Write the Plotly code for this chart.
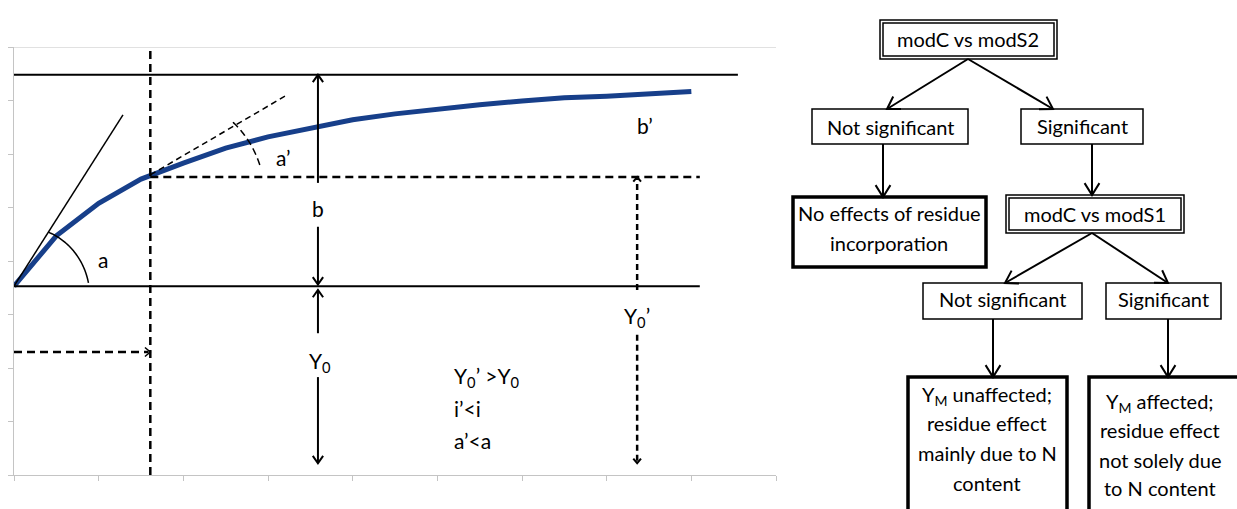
import numpy as np
import plotly.graph_objects as go

W, H = 1237, 509
FONT = "Lato"

# ---------------- growth curve data (left panel) ----------------
time = [0, 0.5, 1, 1.5, 2, 2.5, 3, 3.5, 4, 4.5, 5, 5.5, 6, 6.5, 7, 7.5, 8]
response = [3.53, 4.47, 5.08, 5.53, 5.83, 6.11, 6.32, 6.49, 6.64, 6.75,
            6.84, 6.92, 6.99, 7.05, 7.08, 7.13, 7.17]

x_ticks = list(range(0, 10))
y_ticks = list(range(0, 9))

# reference levels of the schematic
y_base = response[0]      # Y0 level
y_top = 7.48              # plateau (Y0 + b)
x_ref = 1.61              # reference time
y_ref = 5.57              # Y0' level
x_b = 3.59                # position of the b / Y0 arrows
x_b2 = 7.36               # position of the Y0' arrow
x_end_top, x_end_base = 8.55, 8.1

# left panel placement in pixels
PX_L, PX_R, PX_T, PX_B = 14, 776, 47, 475
X_MAX, Y_MAX = x_ticks[-1], y_ticks[-1]
SX = (PX_R - PX_L) / X_MAX
SY = (PX_B - PX_T) / Y_MAX

fig = go.Figure()
fig.add_trace(go.Scatter(x=time, y=response, mode="lines",
                         line=dict(color="#173f8a", width=5),
                         xaxis="x", yaxis="y", hoverinfo="skip"))
# invisible trace that anchors the pixel-space overlay axes
fig.add_trace(go.Scatter(x=[0], y=[0], mode="markers", marker=dict(opacity=0),
                         xaxis="x2", yaxis="y2", hoverinfo="skip"))

shapes = []
annotations = []


def line(x0, y0, x1, y1, width=2, dash=None, ref="data"):
    xr, yr = ("x", "y") if ref == "data" else ("x2", "y2")
    d = dict(color="black", width=width)
    if dash:
        d["dash"] = dash
    shapes.append(dict(type="line", xref=xr, yref=yr, x0=x0, y0=y0, x1=x1, y1=y1,
                       line=d, layer="above"))


def head(xt, yt, dx, dy, length, ang=33, width=2, ref="data"):
    """Open V arrowhead at (xt, yt); (dx, dy) is the travel direction in screen pixels."""
    u = np.array([dx, dy], float)
    u /= np.hypot(*u)
    pts = []
    for s in (1, -1):
        a = np.radians(s * ang)
        r = np.array([[np.cos(a), -np.sin(a)], [np.sin(a), np.cos(a)]]) @ (-u)
        pts.append(r * length)
    if ref == "data":
        conv = lambda p: (xt + p[0] / SX, yt - p[1] / SY)
        xr, yr = "x", "y"
    else:
        conv = lambda p: (xt + p[0], yt + p[1])
        xr, yr = "x2", "y2"
    a1, a2 = conv(pts[0]), conv(pts[1])
    path = f"M {a1[0]},{a1[1]} L {xt},{yt} L {a2[0]},{a2[1]}"
    shapes.append(dict(type="path", xref=xr, yref=yr, path=path,
                       line=dict(color="black", width=width), layer="above"))


def polyline(xs, ys, width=1.5, dash=None):
    path = "M " + " L ".join(f"{a},{b}" for a, b in zip(xs, ys))
    d = dict(color="black", width=width)
    if dash:
        d["dash"] = dash
    shapes.append(dict(type="path", xref="x", yref="y", path=path, line=d, layer="above"))


def label(x, y, text, size=21, ref="data", xanchor="center"):
    xr, yr = ("x", "y") if ref == "data" else ("x2", "y2")
    annotations.append(dict(x=x, y=y, xref=xr, yref=yr, text=text, showarrow=False,
                            xanchor=xanchor, yanchor="middle",
                            font=dict(family=FONT, size=size, color="black")))


DASH = "8px,5px"

# top border line of the plot area
shapes.append(dict(type="line", xref="x", yref="y", x0=0, x1=X_MAX, y0=Y_MAX, y1=Y_MAX,
                   line=dict(color="#c4c4c4", width=1)))

# horizontal reference levels
line(0, y_top, x_end_top, y_top, width=2)
line(0, y_base, x_end_base, y_base, width=2)
line(x_ref, y_ref, x_end_base, y_ref, width=2.5, dash=DASH)
line(x_ref, 0, x_ref, Y_MAX, width=2.5, dash=DASH)

# dashed arrow pointing at the reference time
line(0, 2.30, x_ref - 0.02, 2.30, width=2.5, dash=DASH)
head(x_ref, 2.30, 1, 0, 7, ang=40, width=1.5)

# initial slope tangent and its angle
line(0, y_base, 1.287, 6.73, width=1.5)
th = np.radians(np.linspace(57.5, 2.5, 40))
rr = 64 + 11 * (1 - th / th[0])
polyline(rr * np.cos(th) / SX, y_base + rr * np.sin(th) / SY, width=1.5)

# slope tangent at the reference time and its angle
line(x_ref, 5.61, 3.20, 7.08, width=1.5, dash="6px,4px")
th2 = np.radians(np.linspace(32.5, 5, 30))
rr2 = 98 + 12 * (1 - (th2 - th2[-1]) / (th2[0] - th2[-1]))
polyline(x_ref + rr2 * np.cos(th2) / SX, 5.61 + rr2 * np.sin(th2) / SY,
         width=1.5, dash="7px,4px")

# b arrow
line(x_b, 5.46, x_b, y_top, width=2)
head(x_b, y_top, 0, -1, 9, ang=35)
line(x_b, 4.64, x_b, y_base + 0.03, width=2)
head(x_b, y_base + 0.03, 0, 1, 9, ang=35)

# Y0 arrow
line(x_b, y_base - 0.07, x_b, 2.65, width=2)
head(x_b, y_base - 0.07, 0, -1, 9, ang=35)
line(x_b, 1.83, x_b, 0.22, width=2)
head(x_b, 0.22, 0, 1, 9, ang=35)

# Y0' dashed arrow
line(x_b2, 3.46, x_b2, y_ref - 0.03, width=2.5, dash="6px,4px")
head(x_b2, y_ref, 0, -1, 6, ang=40, width=2)
line(x_b2, 2.62, x_b2, 0.25, width=2.5, dash="6px,4px")
head(x_b2, 0.22, 0, 1, 6, ang=40, width=2)

label(1.05, 4.02, "a")
label(3.18, 5.94, "a’")
label(7.45, 6.54, "b’")
label(x_b, 4.99, "b")
label(x_b + 0.02, 2.11, "Y<sub>0</sub>")
label(x_b2, 2.95, "Y<sub>0</sub>’")
label(5.17, 1.83, "Y<sub>0</sub>’ >Y<sub>0</sub>", xanchor="left")
label(5.17, 1.25, "i’<i", xanchor="left")
label(5.17, 0.65, "a’<a", xanchor="left")

# ---------------- decision flowchart (right panel, pixel space) ----------------
FS = 20


def box(x0, y0, x1, y1, width=1.5, double=False):
    shapes.append(dict(type="rect", xref="x2", yref="y2", x0=x0, y0=y0, x1=x1, y1=y1,
                       line=dict(color="black", width=width), fillcolor="white",
                       layer="above"))
    if double:
        shapes.append(dict(type="rect", xref="x2", yref="y2", x0=x0 + 3, y0=y0 + 3,
                           x1=x1 - 3, y1=y1 - 3, line=dict(color="black", width=1.5),
                           layer="above"))


def arrow(x0, y0, x1, y1):
    line(x0, y0, x1, y1, width=2, ref="px")
    head(x1, y1, x1 - x0, y1 - y0, 14, ang=32, width=2, ref="px")


box(880, 20, 1057, 59, double=True)
box(812, 109, 968, 144)
box(1021, 109, 1143, 144)
box(793, 197, 986, 267, width=3.5)
box(1006, 195, 1184, 233, double=True)
box(923, 283, 1082, 319)
box(1106, 283, 1221, 319)
box(908, 377, 1067, 530, width=3.5)
box(1089, 377, 1260, 530, width=3.5)

arrow(968, 59, 887, 109)
arrow(968, 59, 1053, 109)
arrow(883, 144, 883, 197)
arrow(1092, 144, 1092, 195)
arrow(1092, 233, 1005, 283)
arrow(1092, 233, 1168, 283)
arrow(993, 319, 993, 377)
arrow(1168, 319, 1168, 377)

label(968, 39, "modC vs modS2", FS, ref="px")
label(890, 127, "Not significant", FS, ref="px")
label(1082, 126, "Significant", FS, ref="px")
label(889, 213, "No effects of residue", FS, ref="px")
label(889, 243, "incorporation", FS, ref="px")
label(1095, 214, "modC vs modS1", FS, ref="px")
label(1002, 299, "Not significant", FS, ref="px")
label(1163, 299, "Significant", FS, ref="px")

for yy, t in zip([395, 423, 453, 483],
                 ["Y<sub>M</sub> unaffected;", "residue effect", "mainly due to N", "content"]):
    label(987, yy, t, FS, ref="px")
for yy, t in zip([402, 430, 460, 488],
                 ["Y<sub>M</sub> affected;", "residue effect", "not solely due", "to N content"]):
    label(1160, yy, t, FS, ref="px")

axis_common = dict(showgrid=False, zeroline=False, showticklabels=False,
                   showline=True, linecolor="#c4c4c4", linewidth=1,
                   ticks="outside", ticklen=5, tickcolor="#c4c4c4", tickwidth=1,
                   fixedrange=True)

fig.update_layout(
    width=W, height=H, margin=dict(l=0, r=0, t=0, b=0),
    paper_bgcolor="white", plot_bgcolor="rgba(0,0,0,0)", showlegend=False,
    xaxis=dict(domain=[PX_L / W, PX_R / W], range=[0, X_MAX],
               tickvals=x_ticks, anchor="y", **axis_common),
    yaxis=dict(domain=[(H - PX_B) / H, (H - PX_T) / H], range=[0, Y_MAX],
               tickvals=y_ticks, anchor="x", **axis_common),
    xaxis2=dict(domain=[0, 1], range=[0, W], visible=False, anchor="y2", fixedrange=True),
    yaxis2=dict(domain=[0, 1], range=[H, 0], visible=False, anchor="x2", fixedrange=True),
    shapes=shapes, annotations=annotations,
)

fig.write_html("out.html", config={"displayModeBar": False})
